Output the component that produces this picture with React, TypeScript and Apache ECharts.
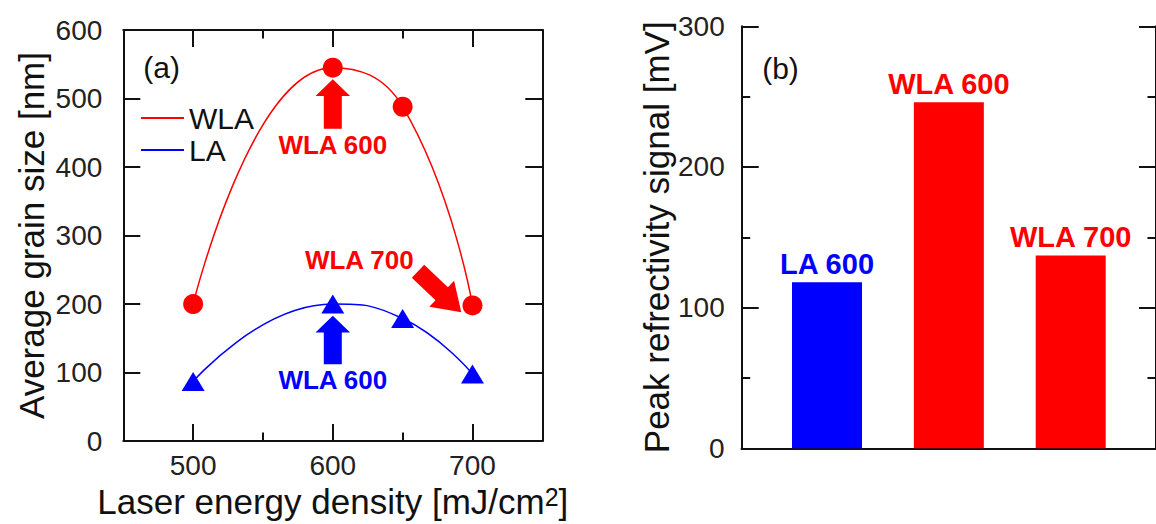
import React, { useEffect, useRef } from "react";
import * as echarts from "echarts";

const FONT = '"Liberation Sans", Arial, Helvetica, sans-serif';
const RED = "#ff0000";
const BLUE = "#0000ff";
const INK = "#111111";

// (a) average grain size vs laser energy density
const energy = [500, 600, 650, 700];
const wlaGrain = [200, 545, 488, 198];
const laGrain = [87, 200, 179, 98];
const energyMajorTicks = [500, 600, 700];
const energyMinorTicks = [550, 650];

// (b) peak reflectivity signal per sample
const sampleNames = ["LA 600", "WLA 600", "WLA 700"];
const samplePos = [1, 2, 3];
const peakSignal = [118, 246, 137];
const sampleColors = [BLUE, RED, RED];

// annotations of panel (a), in data units
const upArrows = [
  { x: 600, tip: 528, tail: 456, color: RED },
  { x: 600, tip: 183, tail: 112, color: BLUE },
];
const notes = [
  { x: 600, y: 432, text: "WLA 600", color: RED },
  { x: 600, y: 89, text: "WLA 600", color: BLUE },
  { x: 619, y: 265, text: "WLA 700", color: RED },
];
const slantArrow = { from: [661, 248], to: [692, 188], color: RED };

function arrowShape(t: number[], p: number[], shaftHalf: number, headHalf: number, headLen: number) {
  const dx = p[0] - t[0];
  const dy = p[1] - t[1];
  const len = Math.hypot(dx, dy);
  const ux = dx / len;
  const uy = dy / len;
  const nx = -uy;
  const ny = ux;
  const bx = p[0] - ux * headLen;
  const by = p[1] - uy * headLen;
  return [
    [t[0] + nx * shaftHalf, t[1] + ny * shaftHalf],
    [bx + nx * shaftHalf, by + ny * shaftHalf],
    [bx + nx * headHalf, by + ny * headHalf],
    [p[0], p[1]],
    [bx - nx * headHalf, by - ny * headHalf],
    [bx - nx * shaftHalf, by - ny * shaftHalf],
    [t[0] - nx * shaftHalf, t[1] - ny * shaftHalf],
  ];
}

const frameLine = { show: true, lineStyle: { color: INK, width: 2 } };
const tickLabel = { color: "#222", fontSize: 28, fontFamily: FONT };
const nameStyle = { color: INK, fontSize: 35, fontFamily: FONT };

export default function App() {
  const ref = useRef<HTMLDivElement>(null);

  useEffect(() => {
    if (!ref.current) return;
    const chart = echarts.init(ref.current, null, { renderer: "svg" });

    const energyAxis = (position: "bottom" | "top", ticks: number[], len: number, line: boolean, labels: boolean) => ({
      type: "value",
      gridIndex: 0,
      position,
      min: 450,
      max: 750,
      axisLine: line ? frameLine : { show: false },
      axisTick: { show: true, inside: true, length: len, customValues: ticks, lineStyle: { color: INK, width: 2 } },
      axisLabel: labels
        ? { ...tickLabel, margin: 10, customValues: energyMajorTicks }
        : { show: false },
      splitLine: { show: false },
    });

    const option: any = {
      animation: false,
      backgroundColor: "#ffffff",
      grid: [
        { left: 123.3, top: 30, width: 419, height: 417.7 },
        { left: 741.7, top: 26.3, width: 421.9, height: 422 },
      ],
      legend: {
        orient: "vertical",
        left: 136,
        top: 98,
        icon: "rect",
        itemWidth: 43,
        itemHeight: 2,
        itemGap: 2,
        selectedMode: false,
        data: ["WLA", "LA"],
        textStyle: { color: INK, fontSize: 30, fontFamily: FONT },
      },
      xAxis: [
        {
          ...energyAxis("bottom", energyMajorTicks, 17, true, true),
          name: "Laser energy density [mJ/cm{sup|2}]",
          nameLocation: "middle",
          nameGap: 38,
          nameTextStyle: {
            ...nameStyle,
            rich: { sup: { fontSize: 25, fontFamily: FONT, color: INK, verticalAlign: "top" } },
          },
        },
        energyAxis("bottom", energyMinorTicks, 8.5, false, false),
        energyAxis("top", energyMajorTicks, 17, true, false),
        energyAxis("top", energyMinorTicks, 8.5, false, false),
        {
          type: "value",
          gridIndex: 1,
          position: "bottom",
          min: 0.3,
          max: 3.7,
          axisLine: frameLine,
          axisTick: { show: false },
          axisLabel: { show: false },
          splitLine: { show: false },
        },
        {
          type: "value",
          gridIndex: 1,
          position: "top",
          min: 0.3,
          max: 3.7,
          axisLine: frameLine,
          axisTick: { show: false },
          axisLabel: { show: false },
          splitLine: { show: false },
        },
      ],
      yAxis: [
        {
          type: "value",
          gridIndex: 0,
          position: "left",
          min: 0,
          max: 600,
          interval: 100,
          axisLine: frameLine,
          axisTick: { show: true, inside: true, length: 17, lineStyle: { color: INK, width: 2 } },
          axisLabel: { ...tickLabel, margin: 21 },
          splitLine: { show: false },
          name: "Average grain size [nm]",
          nameLocation: "middle",
          nameRotate: 90,
          nameGap: 74,
          nameTextStyle: nameStyle,
        },
        {
          type: "value",
          gridIndex: 0,
          position: "right",
          min: 0,
          max: 600,
          interval: 100,
          axisLine: frameLine,
          axisTick: { show: true, inside: true, length: 17, lineStyle: { color: INK, width: 2 } },
          axisLabel: { show: false },
          splitLine: { show: false },
        },
        {
          type: "value",
          gridIndex: 1,
          position: "left",
          min: 0,
          max: 300,
          interval: 100,
          axisLine: frameLine,
          axisTick: { show: true, inside: true, length: 17, lineStyle: { color: INK, width: 2 } },
          minorTick: { show: true, splitNumber: 2, length: 8.5, lineStyle: { color: INK, width: 2 } },
          axisLabel: { ...tickLabel, margin: 17 },
          splitLine: { show: false },
          name: "Peak refrectivity signal [mV]",
          nameLocation: "middle",
          nameRotate: 90,
          nameGap: 68,
          nameTextStyle: nameStyle,
        },
        {
          type: "value",
          gridIndex: 1,
          position: "right",
          min: 0,
          max: 300,
          interval: 100,
          axisLine: frameLine,
          axisTick: { show: true, inside: true, length: 17, lineStyle: { color: INK, width: 2 } },
          minorTick: { show: true, splitNumber: 2, length: 8.5, lineStyle: { color: INK, width: 2 } },
          axisLabel: { show: false },
          splitLine: { show: false },
        },
      ],
      series: [
        {
          name: "WLA",
          type: "line",
          xAxisIndex: 0,
          yAxisIndex: 0,
          data: energy.map((e, i) => [e, wlaGrain[i]]),
          smooth: true,
          symbol: "circle",
          symbolSize: 20,
          color: RED,
          itemStyle: { color: RED },
          lineStyle: { color: RED, width: 1.5 },
          z: 3,
        },
        {
          name: "LA",
          type: "line",
          xAxisIndex: 0,
          yAxisIndex: 0,
          data: energy.map((e, i) => [e, laGrain[i]]),
          smooth: true,
          symbol: "triangle",
          symbolSize: [23, 19],
          color: BLUE,
          itemStyle: { color: BLUE },
          lineStyle: { color: BLUE, width: 1.5 },
          z: 3,
        },
        {
          name: "peak",
          type: "bar",
          xAxisIndex: 4,
          yAxisIndex: 2,
          barWidth: 70,
          data: samplePos.map((p, i) => ({
            value: [p, peakSignal[i]],
            itemStyle: { color: sampleColors[i] },
            label: { color: sampleColors[i] },
          })),
          label: {
            show: true,
            position: "top",
            distance: 4,
            fontSize: 29,
            fontWeight: "bold",
            fontFamily: FONT,
            formatter: (p: any) => sampleNames[p.dataIndex],
          },
        },
      ],
    };

    chart.setOption(option);

    const px = (x: number, y: number) =>
      chart.convertToPixel({ xAxisIndex: 0, yAxisIndex: 0 }, [x, y]) as number[];

    const graphic: any[] = [];
    upArrows.forEach((a) => {
      graphic.push({
        type: "polygon",
        shape: { points: arrowShape(px(a.x, a.tail), px(a.x, a.tip), 9, 17.3, 16.7) },
        style: { fill: a.color },
        z: 10,
      });
    });
    graphic.push({
      type: "polygon",
      shape: { points: arrowShape(px(slantArrow.from[0], slantArrow.from[1]), px(slantArrow.to[0], slantArrow.to[1]), 9, 18, 27) },
      style: { fill: slantArrow.color },
      z: 10,
    });
    notes.forEach((n) => {
      const p = px(n.x, n.y);
      graphic.push({
        type: "text",
        x: p[0],
        y: p[1],
        style: {
          text: n.text,
          fill: n.color,
          fontSize: 26,
          fontWeight: "bold",
          fontFamily: FONT,
          align: "center",
          verticalAlign: "middle",
        },
        z: 10,
      });
    });
    graphic.push(
      {
        type: "text",
        x: 161.7,
        y: 67.5,
        style: { text: "(a)", fill: INK, fontSize: 30, fontFamily: FONT, align: "center", verticalAlign: "middle" },
      },
      {
        type: "text",
        x: 780.5,
        y: 68,
        style: { text: "(b)", fill: INK, fontSize: 30, fontFamily: FONT, align: "center", verticalAlign: "middle" },
      }
    );
    chart.setOption({ graphic });

    return () => chart.dispose();
  }, []);

  return (
    <div
      ref={ref}
      style={{ position: "absolute", left: 0, top: 0, width: 1156, height: 524, background: "#fff" }}
    />
  );
}
